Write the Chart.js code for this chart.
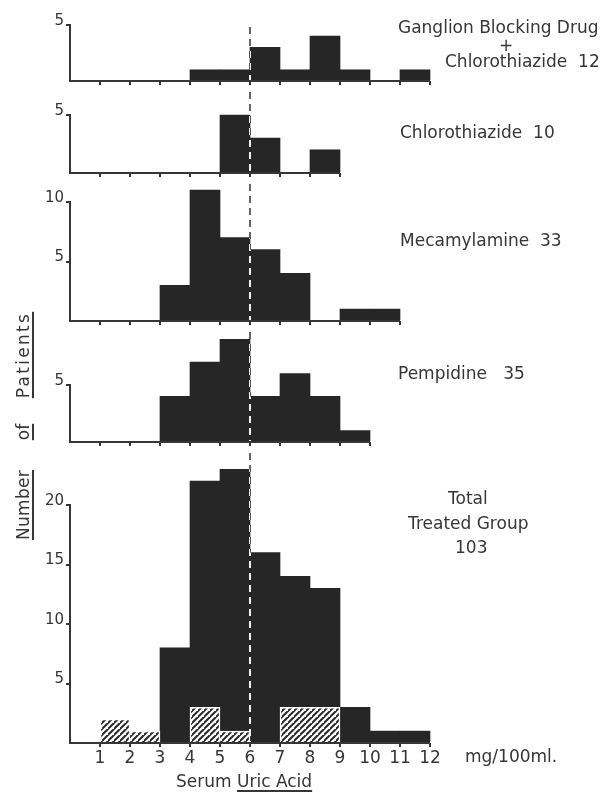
<!DOCTYPE html>
<html>
<head>
<meta charset="utf-8">
<script src="https://cdn.jsdelivr.net/npm/chart.js@4.4.1/dist/chart.umd.min.js"></script>
<style>
html,body{margin:0;padding:0;background:#fff;}
#wrap{position:relative;width:609px;height:792px;overflow:hidden;font-family:"DejaVu Sans",sans-serif;color:#363636;}
.pc{position:absolute;left:0;width:609px;}
.pc canvas{display:block;}
.lbl{position:absolute;white-space:pre;line-height:1;}
.lbl u{text-decoration-thickness:1.5px;text-underline-offset:3px;}
.yt{position:absolute;width:120px;height:20px;line-height:20px;text-align:center;transform:rotate(-90deg);font-size:17px;white-space:pre;}
.yt u{text-decoration-thickness:1.5px;text-underline-offset:3px;}
</style>
</head>
<body>
<div id="wrap">
  <div class="pc" style="top:0px;height:92px"><canvas id="c0" width="609" height="92"></canvas></div>
  <div class="pc" style="top:92px;height:92px"><canvas id="c1" width="609" height="92"></canvas></div>
  <div class="pc" style="top:184px;height:148px"><canvas id="c2" width="609" height="148"></canvas></div>
  <div class="pc" style="top:332px;height:121px"><canvas id="c3" width="609" height="121"></canvas></div>
  <div class="pc" style="top:453px;height:339px"><canvas id="c4" width="609" height="339"></canvas></div>

  <div class="lbl" id="t0a" style="left:398px;top:19px;font-size:17px;"></div>
  <div class="lbl" id="t0b" style="left:499px;top:37px;font-size:17px;"></div>
  <div class="lbl" id="t0c" style="left:445px;top:53px;font-size:17px;"></div>
  <div class="lbl" id="t1" style="left:400px;top:124px;font-size:17px;"></div>
  <div class="lbl" id="t2" style="left:400px;top:232px;font-size:17px;"></div>
  <div class="lbl" id="t3" style="left:398px;top:365px;font-size:17px;"></div>
  <div class="lbl" id="t4a" style="left:448px;top:490px;font-size:17px;"></div>
  <div class="lbl" id="t4b" style="left:408px;top:515px;font-size:17px;"></div>
  <div class="lbl" id="t4c" style="left:455px;top:539px;font-size:17px;"></div>
  <div class="lbl" id="xunit" style="left:465px;top:748px;font-size:17px;"></div>
  <div class="lbl" id="xtitle" style="left:176px;top:773px;font-size:17px;"></div>
  <div class="yt" id="y0" style="left:-37px;top:495px;letter-spacing:0.3px;"></div>
  <div class="yt" id="y1" style="left:-37px;top:422px;"></div>
  <div class="yt" id="y2" style="left:-37px;top:345px;letter-spacing:2.3px;"></div>
</div>
<script>
// ---- data ----
const binStarts = [0,1,2,3,4,5,6,7,8,9,10,11];          // serum uric acid bins (mg/100ml), width 1
const ganglionPlusChlorothiazide = [0,0,0,0,1,1,3,1,4,1,0,1];   // n = 12
const chlorothiazide             = [0,0,0,0,0,5,3,0,2,0,0,0];   // n = 10
const mecamylamine               = [0,0,0,3,11,7,6,4,0,1,1,0];  // n = 33
const pempidine                  = [0,0,0,4,7,9,4,6,4,1,0,0];   // n = 35
const totalTreated               = [0,0,0,8,22,23,16,14,13,3,1,1]; // n = 103
const hatchedGroup               = [0,2,1,0,3,1,0,3,3,0,0,0];
const xTickLabels = ['1','2','3','4','5','6','7','8','9','10','11','12'];
const yTopTicks = [5,5,10,5,20];
const dividerValue = 6;
const panelTitles = [['Ganglion Blocking Drug','+','Chlorothiazide  12'],['Chlorothiazide  10'],['Mecamylamine  33'],['Pempidine   35'],['Total','Treated Group','103']];
const yTitleWords = ['Number','of','Patients'];
const xTitleWords = ['Serum','Uric Acid'];
const xUnit = 'mg/100ml.';

// ---- text ----
document.getElementById('t0a').textContent = panelTitles[0][0];
document.getElementById('t0b').textContent = panelTitles[0][1];
document.getElementById('t0c').textContent = panelTitles[0][2];
document.getElementById('t1').textContent = panelTitles[1][0];
document.getElementById('t2').textContent = panelTitles[2][0];
document.getElementById('t3').textContent = panelTitles[3][0];
document.getElementById('t4a').textContent = panelTitles[4][0];
document.getElementById('t4b').textContent = panelTitles[4][1];
document.getElementById('t4c').textContent = panelTitles[4][2];
document.getElementById('xunit').textContent = xUnit;
document.getElementById('xtitle').innerHTML = xTitleWords[0] + ' <u>' + xTitleWords[1] + '</u>';
yTitleWords.forEach((w,i)=>{ document.getElementById('y'+i).innerHTML = '<u>' + w + '</u>'; });

// ---- styling ----
const INK = '#363636';
const BAR = '#262626';
const FONT = {family:'"DejaVu Sans", sans-serif', size:15};
const XFONT = {family:'"DejaVu Sans", sans-serif', size:17};

function makeHatch(){
  const s = 6;
  const p = document.createElement('canvas');
  p.width = s; p.height = s;
  const g = p.getContext('2d');
  g.fillStyle = '#fff'; g.fillRect(0,0,s,s);
  g.strokeStyle = '#2a2a2a'; g.lineWidth = 2;
  g.beginPath();
  g.moveTo(-2, s+2); g.lineTo(s+2, -2);        // y = -x + s
  g.moveTo(-2, 2);   g.lineTo(2, -2);          // y = -x
  g.moveTo(s-2, 2*s+2); g.lineTo(2*s+2, s-2);  // y = -x + 2s
  g.stroke();
  return document.createElement('canvas').getContext('2d').createPattern(p,'repeat');
}
const HATCH = makeHatch();

const bgPlugin = {
  id:'bg',
  beforeDraw(chart){
    const c = chart.ctx; c.save(); c.fillStyle = '#fff';
    c.fillRect(0,0,chart.width,chart.height); c.restore();
  }
};
const basePlugin = {
  id:'base',
  afterDatasetsDraw(chart, args, o){
    const c = chart.ctx, x = chart.scales.x, y = chart.chartArea.bottom;
    c.save(); c.strokeStyle = INK; c.lineWidth = 2;
    c.beginPath(); c.moveTo(x.getPixelForValue(0)-1, y); c.lineTo(x.getPixelForValue(o.end), y); c.stroke();
    c.restore();
  }
};
function dashX(chart){ return Math.round(chart.scales.x.getPixelForValue(dividerValue)); }
const dashPlugin = {
  id:'dash',
  beforeDatasetsDraw(chart, args, o){
    const c = chart.ctx, x = dashX(chart);
    c.save();
    c.strokeStyle = '#333'; c.lineWidth = 1.5; c.setLineDash([7,5]);
    c.beginPath(); c.moveTo(x, o.from); c.lineTo(x, chart.chartArea.bottom); c.stroke();
    c.restore();
  },
  afterDatasetsDraw(chart, args, o){
    const c = chart.ctx, x = dashX(chart);
    const meta = chart.getDatasetMeta(chart.data.datasets.length - 1);
    c.save();
    c.beginPath();
    meta.data.forEach(el=>{
      const p = el.getProps(['x','y','base','width'], true);
      if (p.y == null || isNaN(p.y) || p.base - p.y <= 0) return;
      c.rect(p.x - p.width/2, p.y, p.width, p.base - p.y);
    });
    c.clip();
    c.strokeStyle = '#f2f2f2'; c.lineWidth = 2; c.setLineDash([7,5]);
    c.beginPath(); c.moveTo(x, o.from); c.lineTo(x, chart.chartArea.bottom); c.stroke();
    c.restore();
  }
};

function lastEdge(arr){
  let e = 0;
  arr.forEach((v,i)=>{ if (v > 0) e = binStarts[i] + 1; });
  return e;
}
function toPoints(arr){
  return binStarts.map((b,i)=>({x:b+0.5, y: arr[i] > 0 ? arr[i] : null}));
}
function outlineFor(arr){
  return ctx => {
    const i = ctx.dataIndex, v = arr[i] || 0;
    const prev = i > 0 ? arr[i-1] : 0, next = i < arr.length-1 ? arr[i+1] : 0;
    return {top:1.5, bottom:0, left: prev < v ? 1.5 : 0, right: next < v ? 1.5 : 0};
  };
}

function makePanel(id, series, opt){
  const datasets = [];
  if (opt.hatched){
    datasets.push({
      data: toPoints(opt.hatched),
      backgroundColor: HATCH, borderColor:'#fff', borderWidth: outlineFor(opt.hatched),
      borderSkipped:false,
      grouped:false, order:0, clip:false, barPercentage:1, categoryPercentage:1
    });
  }
  datasets.push({
    data: toPoints(series),
    backgroundColor: BAR, borderWidth:0,
    grouped:false, order:1, clip:false, barPercentage:1, categoryPercentage:1
  });
  const end = Math.max(lastEdge(series), opt.hatched ? lastEdge(opt.hatched) : 0);
  const yTop = opt.yTop;
  return new Chart(document.getElementById(id), {
    type:'bar',
    data:{datasets},
    options:{
      responsive:false, maintainAspectRatio:false, animation:false, devicePixelRatio:1,
      events:[],
      layout:{padding:{top:opt.padTop, right:179, left:0, bottom:0}},
      plugins:{legend:{display:false}, tooltip:{enabled:false},
               base:{end}, dash:{from:opt.dashFrom}},
      scales:{
        x:{
          type:'linear', min:0, max:12, offset:false,
          afterFit:s=>{ s.height = opt.xH; },
          border:{display:false},
          grid:{offset:false, drawOnChartArea:false, drawTicks:true, tickLength:4, lineWidth:2,
                color: c => (c.tick && c.tick.value > 0 && c.tick.value <= end) ? INK : 'rgba(0,0,0,0)'},
          ticks:{stepSize:1, autoSkip:false, maxRotation:0, display:!!opt.xLabels, padding:1,
                 font:XFONT, color:INK,
                 callback: v => (v >= 1 ? xTickLabels[v-1] : '')}
        },
        y:{
          min:0, max:yTop,
          afterFit:s=>{ s.width = 70; },
          border:{display:true, color:INK, width:2},
          grid:{drawOnChartArea:false, drawTicks:true, tickLength:4, lineWidth:2,
                color: c => (c.tick && c.tick.value > 0) ? INK : 'rgba(0,0,0,0)'},
          ticks:{stepSize:5, font:FONT, color:INK, padding:2, labelOffset:-4,
                 callback: v => (v === 0 ? '' : String(v))}
        }
      }
    },
    plugins:[bgPlugin, basePlugin, dashPlugin]
  });
}

makePanel('c0', ganglionPlusChlorothiazide, {yTop:yTopTicks[0], padTop:25, xH:9,  dashFrom:27});
makePanel('c1', chlorothiazide,             {yTop:yTopTicks[1], padTop:23, xH:10, dashFrom:0});
makePanel('c2', mecamylamine,               {yTop:yTopTicks[2], padTop:18, xH:9,  dashFrom:0});
makePanel('c3', pempidine,                  {yTop:yTopTicks[3], padTop:53, xH:9,  dashFrom:0});
makePanel('c4', totalTreated,               {yTop:yTopTicks[4], padTop:52, xH:49, dashFrom:0, hatched:hatchedGroup, xLabels:true});
</script>
</body>
</html>
